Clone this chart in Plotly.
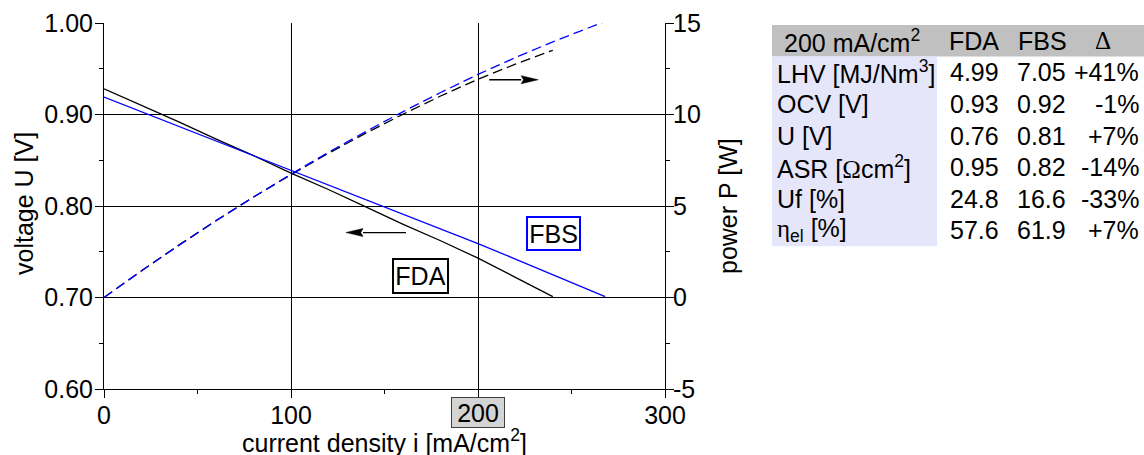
import plotly.graph_objects as go

# ---------------- data ----------------
i_fda = [0, 20, 40, 60, 80, 100, 120, 140, 160, 180, 200, 220, 240]
u_fda = [0.928, 0.910, 0.892, 0.873, 0.855, 0.836, 0.818, 0.799, 0.780, 0.762, 0.743, 0.722, 0.701]
p_fda = [0, 1.46, 2.86, 4.21, 5.49, 6.71, 7.88, 8.98, 10.02, 11.01, 11.93, 12.75, 13.51]

i_fbs = [0, 20, 40, 60, 80, 100, 120, 140, 160, 180, 200, 220, 240, 260, 268]
u_fbs = [0.919, 0.903, 0.887, 0.871, 0.855, 0.839, 0.823, 0.807, 0.791, 0.775, 0.759, 0.742, 0.725, 0.708, 0.701]
p_fbs = [0, 1.45, 2.85, 4.20, 5.49, 6.74, 7.93, 9.07, 10.16, 11.20, 12.19, 13.11, 13.97, 14.78, 15.09]

x_ticks = [0, 100, 200, 300]
x_ticktext = ["0", "100", " ", "300"]
y_ticks = [0.60, 0.70, 0.80, 0.90, 1.00]
y2_ticks = [-5, 0, 5, 10, 15]
y2_ticktext = ["-5", "0", "5", "10", "15"]

table_header = ["200 mA/cm<sup>2</sup>", "FDA", "FBS",
                "<span style='font-family:Liberation Serif'>Δ</span>"]
row_labels = ["LHV [MJ/Nm<sup>3</sup>]", "OCV [V]", "U [V]",
              "ASR [<span style='font-family:Liberation Serif'>Ω</span>cm<sup>2</sup>]",
              "Uf [%]", "<span style='font-family:Liberation Serif'>η</span><sub>el</sub> [%]"]
fda_vals = ["4.99", "0.93", "0.76", "0.95", "24.8", "57.6"]
fbs_vals = ["7.05", "0.92", "0.81", "0.82", "16.6", "61.9"]
delta_vals = ["+41%", "-1%", "+7%", "-14%", "-33%", "+7%"]

# ---------------- layout helpers ----------------
W, H = 1144, 455
FONT = "Liberation Sans, Arial, sans-serif"
FS = 25
BLUE = "#0000ff"
PX0, PX1, PY0, PY1 = 104, 665, 23, 389  # plot area in pixels


def px(x):
    return x / W


def py(y):
    return 1 - y / H


fig = go.Figure()

fig.add_trace(go.Scatter(x=i_fda, y=u_fda, mode="lines", line=dict(color="black", width=1.3),
                         showlegend=False, yaxis="y"))
fig.add_trace(go.Scatter(x=i_fbs, y=u_fbs, mode="lines", line=dict(color=BLUE, width=1.3),
                         showlegend=False, yaxis="y"))
fig.add_trace(go.Scatter(x=i_fda, y=p_fda, mode="lines",
                         line=dict(color="black", width=1.3, dash="10px,5px"),
                         showlegend=False, yaxis="y2"))
fig.add_trace(go.Scatter(x=i_fbs, y=p_fbs, mode="lines",
                         line=dict(color=BLUE, width=1.3, dash="10px,5px"),
                         showlegend=False, yaxis="y2"))

axis_common = dict(
    showline=True, linecolor="black", linewidth=1,
    ticks="outside", ticklen=8, tickcolor="black", tickwidth=1,
    tickfont=dict(family=FONT, size=FS, color="black"),
    zeroline=False, automargin=False,
)

fig.update_layout(
    width=W, height=H,
    margin=dict(l=0, r=0, t=0, b=0),
    paper_bgcolor="white", plot_bgcolor="white",
    font=dict(family=FONT, size=FS, color="black"),
    xaxis=dict(
        domain=[px(PX0), px(PX1)], range=[0, 300],
        tickmode="array", tickvals=x_ticks, ticktext=x_ticktext,
        ticklabelstandoff=-4,
        showgrid=True, gridcolor="black", gridwidth=1,
        minor=dict(tickmode="array", tickvals=[50, 150, 250], ticks="outside",
                   ticklen=4, tickcolor="black", showgrid=False),
        **axis_common,
    ),
    yaxis=dict(
        domain=[py(PY1), py(PY0)], range=[0.6, 1.0],
        tickmode="array", tickvals=y_ticks, tickformat=".2f",
        ticklabelstandoff=-3,
        showgrid=True, gridcolor="black", gridwidth=1,
        minor=dict(tickmode="array", tickvals=[0.65, 0.75, 0.85, 0.95], ticks="outside",
                   ticklen=4, tickcolor="black", showgrid=False),
        **axis_common,
    ),
    yaxis2=dict(
        overlaying="y", side="right", anchor="x", range=[-5, 15],
        tickmode="array", tickvals=y2_ticks, ticktext=y2_ticktext, showgrid=False,
        ticklabelstandoff=-6,
        minor=dict(tickmode="array", tickvals=[-2.5, 2.5, 7.5, 12.5], ticks="outside",
                   ticklen=4, tickcolor="black", showgrid=False),
        **axis_common,
    ),
)

ann = []
# axis titles
ann.append(dict(text="voltage U [V]", x=px(24), y=py(204), xref="paper", yref="paper",
                textangle=-90, showarrow=False, xanchor="center", yanchor="middle",
                font=dict(size=FS)))
ann.append(dict(text="power P [W]", x=px(728), y=py(206), xref="paper", yref="paper",
                textangle=-90, showarrow=False, xanchor="center", yanchor="middle",
                font=dict(size=FS)))
ann.append(dict(text="current density i [mA/cm<sup>2</sup>]", x=px(384), y=py(441),
                xref="paper", yref="paper", showarrow=False, xanchor="center",
                yanchor="middle", font=dict(size=FS)))
# highlighted 200 tick label
ann.append(dict(text="200", x=200, y=py(412), xref="x", yref="paper", showarrow=False,
                xanchor="center", yanchor="middle", width=52, height=29,
                bgcolor="#d4d4d4", bordercolor="#404040", borderwidth=1, borderpad=0,
                font=dict(size=FS)))
# series labels
ann.append(dict(text="FBS", x=240.6, y=0.7697, xref="x", yref="y", showarrow=False,
                width=51, height=31, bordercolor=BLUE, borderwidth=2, borderpad=0,
                bgcolor="white", font=dict(size=FS)))
ann.append(dict(text="FDA", x=169.5, y=0.7238, xref="x", yref="y", showarrow=False,
                width=53, height=32, bordercolor="black", borderwidth=2, borderpad=0,
                bgcolor="white", font=dict(size=FS)))

# table
ROW_H = 31.6
T_TOP = 25
T_X0, T_X1, C1_X1 = 772, 1144, 937
n_rows = len(row_labels)
shapes = []
shapes.append(dict(type="rect", xref="paper", yref="paper", x0=px(T_X0), x1=px(T_X1),
                   y0=py(T_TOP + ROW_H), y1=py(T_TOP), fillcolor="#c0c0c0", line=dict(width=0),
                   layer="below"))
shapes.append(dict(type="rect", xref="paper", yref="paper", x0=px(T_X0), x1=px(C1_X1),
                   y0=py(T_TOP + ROW_H * (n_rows + 1)), y1=py(T_TOP + ROW_H),
                   fillcolor="#e6e6fa", line=dict(width=0), layer="below"))

head_x = [852, 974, 1042, 1103]
for hx, txt in zip(head_x, table_header):
    ann.append(dict(text=txt, x=px(hx), y=py(T_TOP + ROW_H / 2), xref="paper", yref="paper",
                    showarrow=False, xanchor="center", yanchor="middle", font=dict(size=FS)))
for r in range(n_rows):
    yc = py(T_TOP + ROW_H * (r + 1.5))
    ann.append(dict(text=row_labels[r], x=px(775), y=yc, xref="paper", yref="paper",
                    showarrow=False, xanchor="left", yanchor="middle", font=dict(size=FS)))
    for xr, col in zip([1001, 1068, 1141], [fda_vals, fbs_vals, delta_vals]):
        ann.append(dict(text=col[r], x=px(xr), y=yc, xref="paper", yref="paper",
                        showarrow=False, xanchor="right", yanchor="middle", font=dict(size=FS)))

# arrows (line + long narrow head)
arrow_left = dict(y=0.771, tail=161.5, tip=129.4, head_len=9.1, half_h=0.0044, yref="y")
arrow_right = dict(y=11.9, tail=206.0, tip=232.2, head_len=9.1, half_h=0.22, yref="y2")
for a in (arrow_left, arrow_right):
    d = 1 if a["tip"] > a["tail"] else -1
    base = a["tip"] - d * a["head_len"]
    shapes.append(dict(type="line", xref="x", yref=a["yref"], x0=a["tail"], x1=base,
                       y0=a["y"], y1=a["y"], line=dict(color="black", width=1.3)))
    path = (f"M {a['tip']},{a['y']} L {base},{a['y'] + a['half_h']} "
            f"L {base + d * 1.2},{a['y']} L {base},{a['y'] - a['half_h']} Z")
    shapes.append(dict(type="path", xref="x", yref=a["yref"], path=path,
                       fillcolor="black", line=dict(color="black", width=0.5)))

fig.update_layout(annotations=ann, shapes=shapes)

fig.write_html("out.html", config={"displayModeBar": False},
               post_script="document.body.style.margin='0';")
